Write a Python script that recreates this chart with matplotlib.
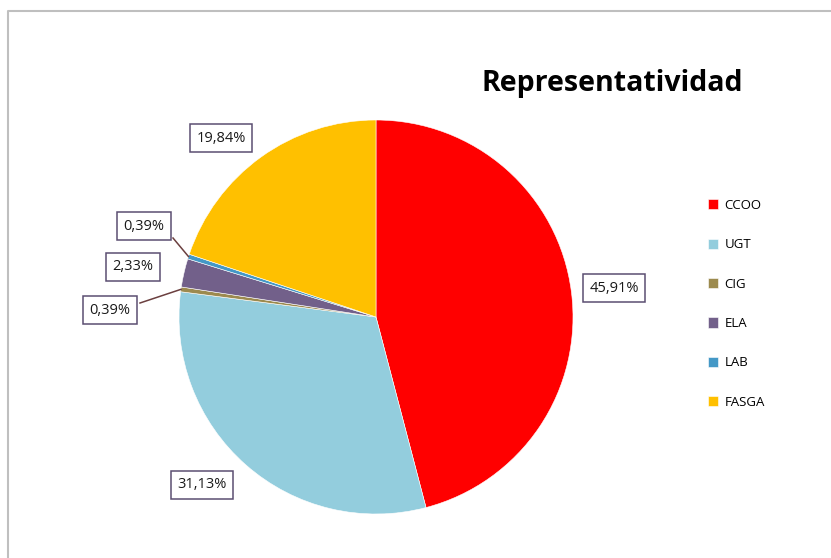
import numpy as np
import matplotlib
matplotlib.use('Agg')
import matplotlib.pyplot as plt

# Data
sindicatos = ['CCOO', 'UGT', 'CIG', 'ELA', 'LAB', 'FASGA']
porcentajes = [45.91, 31.13, 0.39, 2.33, 0.39, 19.84]
colores = ['#FF0000', '#93CDDD', '#9C8A4E', '#72608A', '#4498C6', '#FFC000']

W, H = 831, 558
fig = plt.figure(figsize=(W / 100, H / 100), dpi=100)
ax = fig.add_axes([0, 0, 1, 1])

# Chart area frame (only top and left visible in the crop)
ax.plot([7.5, 7.5, W], [0, H - 10.5, H - 10.5], color='#BFBFBF', lw=1.5,
        solid_capstyle='butt')

cx, cy, r = 376, H - 317, 197
wedges, _ = ax.pie(porcentajes, colors=colores, startangle=90, counterclock=False,
                   center=(cx, cy), radius=r, frame=True,
                   wedgeprops=dict(edgecolor='white', linewidth=0.4))
ax.set_xlim(0, W)
ax.set_ylim(0, H)
ax.set_aspect('equal')
ax.axis('off')

# data labels, boxed, with leader lines for the small slices
box = dict(boxstyle='square,pad=0.42', fc='white', ec='#5B4E72', lw=1.1)
etiquetas = [f'{v:.2f}%'.replace('.', ',') for v in porcentajes]
pos_labels = {0: (614, 288), 1: (202, 485), 5: (221, 138),
              2: (110, 310), 3: (133, 267), 4: (144, 226)}
leader = {2: (140, 303), 4: (173, 238)}

for i, w in enumerate(wedges):
    mid = np.deg2rad((w.theta1 + w.theta2) / 2)
    px, py = pos_labels[i]
    ax.text(px, H - py, etiquetas[i], ha='center', va='center', fontsize=10.5,
            family='Open Sans', color='#1A1A1A', bbox=box, zorder=5)
    if i in leader:
        ex, ey = cx + r * np.cos(mid), cy + r * np.sin(mid)
        lx, ly = leader[i]
        ax.plot([lx, ex], [H - ly, ey], color='#6B3F3F', lw=1.1, zorder=4)

fig.text(612 / W, 1 - 84 / H, 'Representatividad', ha='center', va='center',
         fontsize=20.5, fontweight='bold', family='Open Sans', color='black')

# Legend
leg = ax.legend(wedges, sindicatos, loc='upper left',
                bbox_to_anchor=(696 / W, 1 - 187 / H), frameon=False,
                prop={'family': 'Open Sans', 'size': 9.5},
                handlelength=0.8, handleheight=0.8, handletextpad=0.45,
                labelspacing=2.0)

fig.savefig('out.png', dpi=100)
